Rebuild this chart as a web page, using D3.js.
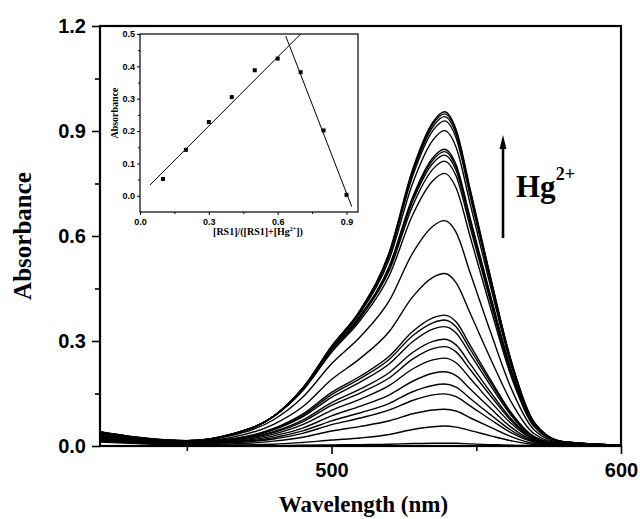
<!DOCTYPE html>
<html><head><meta charset="utf-8">
<script src="https://cdn.jsdelivr.net/npm/d3@7"></script>
<style>body{margin:0;background:#fff}</style>
</head><body>
<svg id="c" width="640" height="519"></svg>
<script>
// ---------- main chart data ----------
const wavelengths = [420,435,450,465,480,490,500,510,520,528,535,539,543,548,555,562,570,580,600];
const spectra = [
 [0.040,0.022,0.014,0.033,0.085,0.165,0.285,0.390,0.555,0.790,0.925,0.955,0.905,0.730,0.480,0.245,0.068,0.012,0.002],
 [0.041,0.023,0.015,0.032,0.085,0.165,0.284,0.389,0.553,0.785,0.920,0.949,0.900,0.725,0.477,0.244,0.067,0.012,0.002],
 [0.038,0.022,0.014,0.032,0.085,0.165,0.283,0.387,0.549,0.779,0.912,0.941,0.892,0.719,0.473,0.242,0.067,0.012,0.002],
 [0.041,0.023,0.015,0.033,0.085,0.164,0.282,0.386,0.545,0.771,0.901,0.929,0.881,0.710,0.467,0.239,0.066,0.012,0.002],
 [0.037,0.021,0.014,0.032,0.085,0.163,0.280,0.381,0.535,0.750,0.874,0.901,0.854,0.688,0.453,0.232,0.064,0.012,0.002],
 [0.035,0.021,0.015,0.033,0.085,0.161,0.276,0.373,0.515,0.711,0.824,0.848,0.804,0.648,0.427,0.218,0.060,0.011,0.002],
 [0.033,0.020,0.014,0.032,0.085,0.161,0.275,0.372,0.513,0.706,0.817,0.841,0.797,0.643,0.423,0.216,0.060,0.011,0.002],
 [0.034,0.020,0.015,0.032,0.085,0.160,0.274,0.370,0.509,0.699,0.808,0.831,0.788,0.635,0.418,0.214,0.059,0.011,0.002],
 [0.032,0.019,0.014,0.032,0.085,0.160,0.272,0.367,0.502,0.686,0.791,0.814,0.772,0.622,0.409,0.209,0.058,0.011,0.002],
 [0.033,0.020,0.015,0.032,0.084,0.158,0.268,0.360,0.488,0.660,0.758,0.779,0.738,0.595,0.392,0.200,0.055,0.010,0.002],
 [0.031,0.017,0.014,0.029,0.075,0.139,0.235,0.313,0.416,0.551,0.628,0.644,0.611,0.492,0.324,0.166,0.046,0.008,0.001],
 [0.029,0.017,0.013,0.024,0.062,0.112,0.190,0.251,0.328,0.426,0.482,0.493,0.467,0.377,0.248,0.127,0.035,0.006,0.001],
 [0.027,0.015,0.012,0.020,0.050,0.091,0.153,0.200,0.257,0.327,0.366,0.374,0.355,0.286,0.188,0.096,0.027,0.005,0.001],
 [0.028,0.015,0.012,0.019,0.049,0.087,0.147,0.193,0.248,0.315,0.352,0.360,0.341,0.275,0.181,0.093,0.026,0.005,0.001],
 [0.026,0.014,0.011,0.018,0.046,0.083,0.139,0.183,0.235,0.298,0.334,0.341,0.323,0.261,0.172,0.088,0.024,0.004,0.001],
 [0.025,0.014,0.010,0.017,0.041,0.074,0.124,0.163,0.210,0.267,0.299,0.305,0.289,0.233,0.153,0.078,0.022,0.004,0.001],
 [0.024,0.013,0.010,0.016,0.038,0.069,0.116,0.152,0.195,0.248,0.278,0.284,0.269,0.217,0.143,0.073,0.020,0.004,0.001],
 [0.021,0.012,0.009,0.014,0.034,0.061,0.102,0.134,0.173,0.220,0.246,0.251,0.238,0.192,0.126,0.065,0.018,0.003,0.001],
 [0.020,0.011,0.008,0.012,0.029,0.051,0.086,0.114,0.146,0.185,0.208,0.212,0.201,0.162,0.107,0.054,0.015,0.003,0.000],
 [0.019,0.011,0.007,0.010,0.024,0.043,0.072,0.095,0.122,0.155,0.173,0.177,0.168,0.135,0.089,0.045,0.013,0.002,0.000],
 [0.017,0.010,0.006,0.009,0.020,0.036,0.061,0.080,0.103,0.130,0.146,0.149,0.141,0.114,0.075,0.038,0.011,0.002,0.000],
 [0.016,0.008,0.005,0.006,0.014,0.025,0.043,0.056,0.072,0.092,0.103,0.105,0.100,0.080,0.053,0.027,0.007,0.001,0.000],
 [0.014,0.007,0.003,0.003,0.005,0.010,0.017,0.023,0.033,0.047,0.055,0.057,0.054,0.044,0.029,0.015,0.004,0.001,0.000],
 [0.011,0.006,0.003,0.001,0.001,0.002,0.003,0.004,0.005,0.007,0.008,0.008,0.008,0.006,0.004,0.002,0.001,0.000,0.000]
];
const xMajorTicks = [500, 600];
const xMinorTicks = [450, 550];
const yMajorTicks = [0.0, 0.3, 0.6, 0.9, 1.2];
const yMinorTicks = [0.15, 0.45, 0.75, 1.05];

// ---------- inset (Job plot) data ----------
const jobX = [0.1, 0.2, 0.3, 0.4, 0.5, 0.6, 0.7, 0.8, 0.9];
const jobY = [0.052, 0.142, 0.228, 0.305, 0.388, 0.424, 0.382, 0.202, 0.003];
const fitLeft = [[0.043, 0.033], [0.70, 0.50]];
const fitRight = [[0.635, 0.494], [0.923, -0.034]];
const insetXTicks = [0.0, 0.3, 0.6, 0.9];
const insetXMinor = [0.15, 0.45, 0.75];
const insetYTicks = [0.0, 0.1, 0.2, 0.3, 0.4, 0.5];
const insetYMinor = [0.05, 0.15, 0.25, 0.35, 0.45];

const svg = d3.select('#c');
const sans = '"Liberation Sans", Arial, sans-serif';
const serif = '"Liberation Serif", "Times New Roman", serif';

// main layout
const L = 100, R = 621, T = 26, B = 446;
const x = d3.scaleLinear().domain([420, 600]).range([L, R]);
const y = d3.scaleLinear().domain([0, 1.2]).range([B, T]);

svg.append('clipPath').attr('id', 'mclip').append('rect')
  .attr('x', L).attr('y', T).attr('width', R - L).attr('height', B - T);

const line = d3.line().x((d, i) => x(wavelengths[i])).y(d => y(d)).curve(d3.curveMonotoneX);
svg.append('g').attr('clip-path', 'url(#mclip)')
  .selectAll('path').data(spectra).join('path')
  .attr('d', line).attr('fill', 'none').attr('stroke', '#000').attr('stroke-width', 1.4);

function styleAxis(g, size, family) {
  g.select('.domain').remove();
  g.selectAll('.tick line').attr('stroke', '#000').attr('stroke-width', 1.6);
  g.selectAll('.tick text').attr('font-family', family).attr('font-weight', 'bold')
    .attr('font-size', size).attr('fill', '#000');
}

// main axes
svg.append('g').attr('transform', `translate(0,${B})`)
  .call(d3.axisBottom(x).tickValues(xMinorTicks).tickSize(5).tickFormat(''))
  .call(g => styleAxis(g, 20, sans));
svg.append('g').attr('transform', `translate(0,${B})`)
  .call(d3.axisBottom(x).tickValues(xMajorTicks).tickSize(8).tickPadding(9).tickFormat(d3.format('d')))
  .call(g => styleAxis(g, 20, sans));
svg.append('g').attr('transform', `translate(${L},0)`)
  .call(d3.axisLeft(y).tickValues(yMinorTicks).tickSize(5).tickFormat(''))
  .call(g => styleAxis(g, 20, sans));
svg.append('g').attr('transform', `translate(${L},0)`)
  .call(d3.axisLeft(y).tickValues(yMajorTicks).tickSize(8).tickPadding(6).tickFormat(d3.format('.1f')))
  .call(g => styleAxis(g, 20, sans));

svg.append('rect').attr('x', L).attr('y', T).attr('width', R - L).attr('height', B - T)
  .attr('fill', 'none').attr('stroke', '#000').attr('stroke-width', 2.2);

svg.append('text').attr('x', (L + R) / 2 + 3).attr('y', 512).attr('text-anchor', 'middle')
  .attr('font-family', serif).attr('font-weight', 'bold').attr('font-size', 23).text('Wavelength (nm)');
svg.append('text').attr('transform', 'translate(31,236) rotate(-90)').attr('text-anchor', 'middle')
  .attr('font-family', serif).attr('font-weight', 'bold').attr('font-size', 25).text('Absorbance');

// arrow + Hg label
svg.append('line').attr('x1', 503).attr('x2', 503).attr('y1', 238).attr('y2', 146)
  .attr('stroke', '#000').attr('stroke-width', 2.6);
svg.append('path').attr('d', 'M503,135 L506.5,149 L499.5,149 Z').attr('fill', '#000');
const hg = svg.append('text').attr('x', 516).attr('y', 197)
  .attr('font-family', serif).attr('font-weight', 'bold').attr('font-size', 31);
hg.append('tspan').text('Hg');
hg.append('tspan').attr('dy', -17).attr('font-size', 18).text('2+');

// ---------- inset ----------
const iL = 140, iR = 358, iT = 34, iB = 212;
const ix = d3.scaleLinear().domain([0, 0.95]).range([iL, iR]);
const iy = d3.scaleLinear().domain([-0.05, 0.5]).range([iB, iT]);

svg.append('rect').attr('x', iL).attr('y', iT).attr('width', iR - iL).attr('height', iB - iT)
  .attr('fill', '#fff');
svg.append('clipPath').attr('id', 'iclip').append('rect')
  .attr('x', iL).attr('y', iT).attr('width', iR - iL).attr('height', iB - iT);

const fitLine = d3.line().x(d => ix(d[0])).y(d => iy(d[1]));
svg.append('g').attr('clip-path', 'url(#iclip)')
  .selectAll('path').data([fitLeft, fitRight]).join('path')
  .attr('d', fitLine).attr('fill', 'none').attr('stroke', '#000').attr('stroke-width', 1);

svg.append('g').selectAll('rect').data(jobX).join('rect')
  .attr('x', (d) => ix(d) - 2).attr('y', (d, i) => iy(jobY[i]) - 2)
  .attr('width', 4).attr('height', 4).attr('fill', '#000');

function styleInset(g) {
  g.select('.domain').remove();
  g.selectAll('.tick line').attr('stroke', '#000').attr('stroke-width', 1);
  g.selectAll('.tick text').attr('font-family', sans).attr('font-weight', 'bold')
    .attr('font-size', 9).attr('fill', '#000');
}
svg.append('g').attr('transform', `translate(0,${iB})`)
  .call(d3.axisBottom(ix).tickValues(insetXMinor).tickSize(2).tickFormat(''))
  .call(styleInset);
svg.append('g').attr('transform', `translate(0,${iB})`)
  .call(d3.axisBottom(ix).tickValues(insetXTicks).tickSize(3).tickPadding(4).tickFormat(d3.format('.1f')))
  .call(styleInset);
svg.append('g').attr('transform', `translate(${iL},0)`)
  .call(d3.axisLeft(iy).tickValues(insetYMinor).tickSize(2).tickFormat(''))
  .call(styleInset);
svg.append('g').attr('transform', `translate(${iL},0)`)
  .call(d3.axisLeft(iy).tickValues(insetYTicks).tickSize(3).tickPadding(2).tickFormat(d3.format('.1f')))
  .call(styleInset);

svg.append('rect').attr('x', iL).attr('y', iT).attr('width', iR - iL).attr('height', iB - iT)
  .attr('fill', 'none').attr('stroke', '#000').attr('stroke-width', 1.2);

svg.append('text').attr('transform', 'translate(118,113) rotate(-90)').attr('text-anchor', 'middle')
  .attr('font-family', serif).attr('font-weight', 'bold').attr('font-size', 10).text('Absorbance');
const ixl = svg.append('text').attr('x', 258).attr('y', 235).attr('text-anchor', 'middle')
  .attr('font-family', serif).attr('font-weight', 'bold').attr('font-size', 10);
ixl.append('tspan').text('[RS1]/([RS1]+[Hg');
ixl.append('tspan').attr('dy', -4).attr('font-size', 6).text('2+');
ixl.append('tspan').attr('dy', 4).text('])');
</script>
</body></html>
